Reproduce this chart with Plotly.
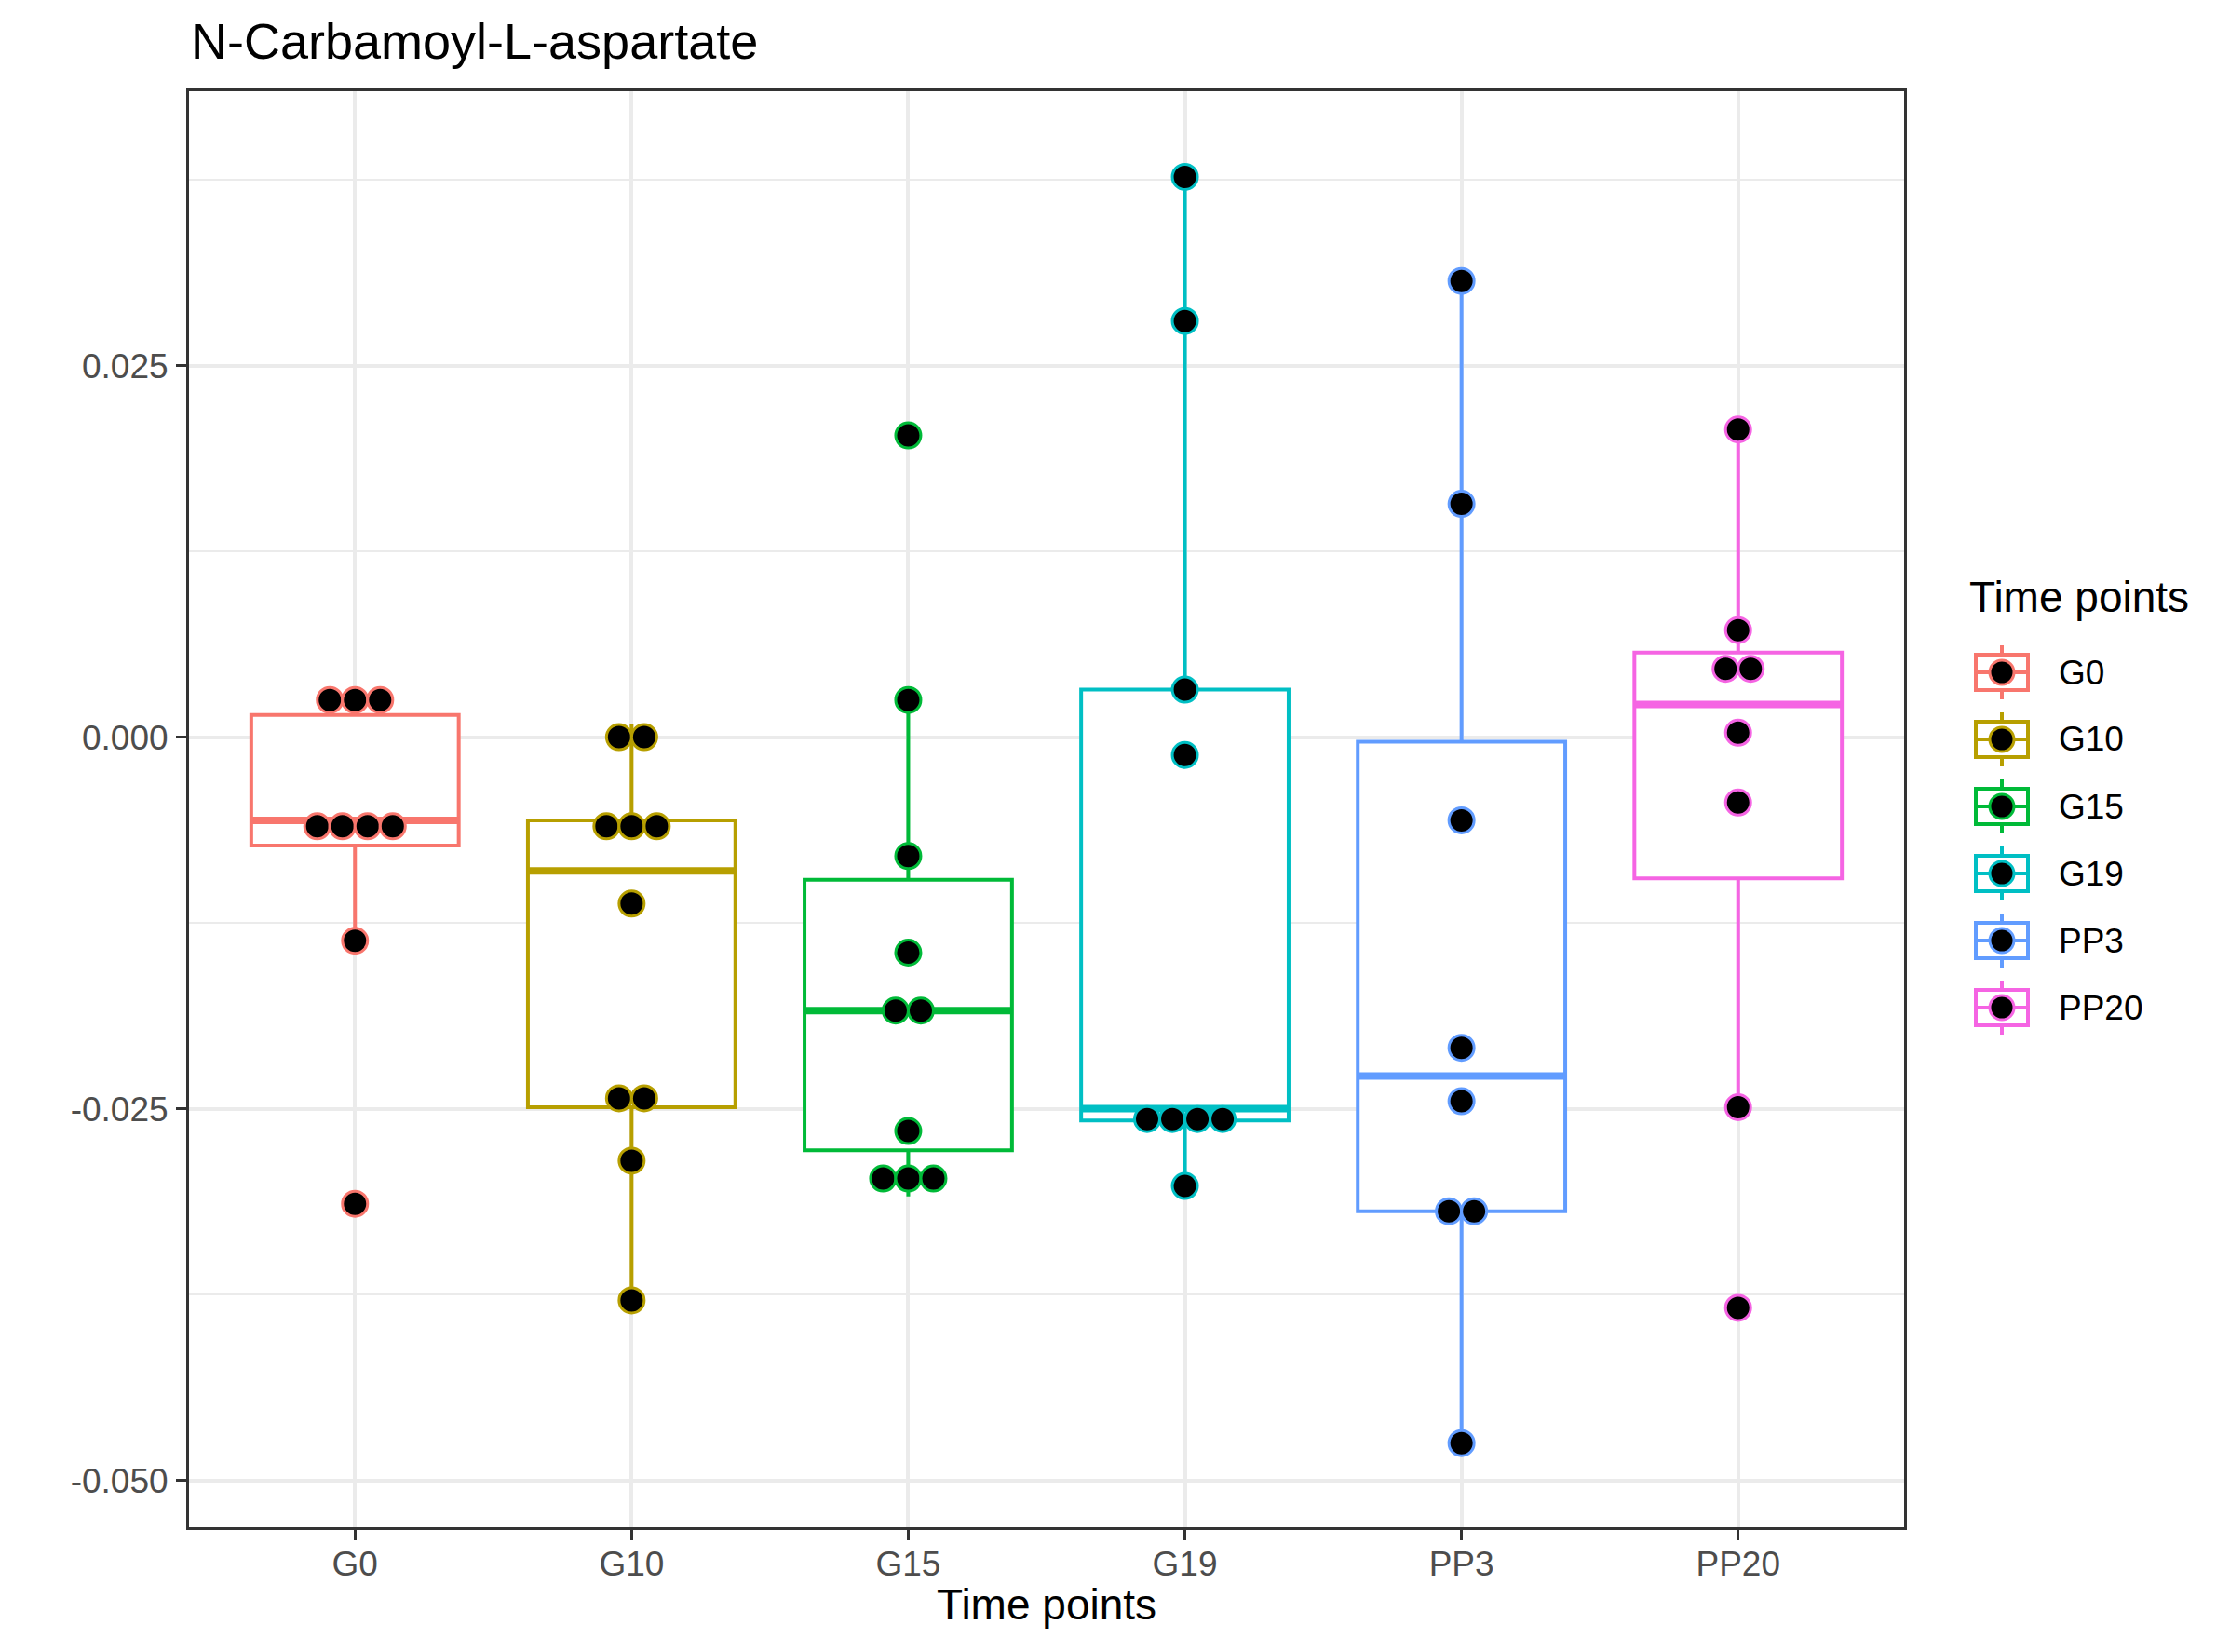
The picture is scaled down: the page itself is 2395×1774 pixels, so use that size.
import plotly.graph_objects as go

# ---------------- data ----------------
categories = ["G0", "G10", "G15", "G19", "PP3", "PP20"]
colors = ["#F8766D", "#B79F00", "#00BA38", "#00BFC4", "#619CFF", "#F564E3"]

# dot positions (binned values, as drawn by the dot plot)
g0_dots = [0.0025, 0.0025, 0.0025, -0.0060, -0.0060, -0.0060, -0.0060, -0.0137, -0.0314]
g10_dots = [0.0000, 0.0000, -0.0060, -0.0060, -0.0060, -0.0112, -0.0243, -0.0243, -0.0285, -0.0379]
g15_dots = [0.0203, 0.0025, -0.0080, -0.0145, -0.0184, -0.0184, -0.0265, -0.0297, -0.0297, -0.0297]
g19_dots = [0.0377, 0.0280, 0.0032, -0.0012, -0.0257, -0.0257, -0.0257, -0.0257, -0.0302]
pp3_dots = [0.0307, 0.0157, -0.0056, -0.0209, -0.0245, -0.0319, -0.0319, -0.0475]
pp20_dots = [0.0207, 0.0072, 0.0046, 0.0046, 0.0003, -0.0044, -0.0249, -0.0384]
dots = [g0_dots, g10_dots, g15_dots, g19_dots, pp3_dots, pp20_dots]

# box-plot statistics
q1 = [-0.0073, -0.0249, -0.0278, -0.0258, -0.0319, -0.0095]
median = [-0.0056, -0.0090, -0.0184, -0.0250, -0.0228, 0.0022]
q3 = [0.0015, -0.0056, -0.0096, 0.0032, -0.0003, 0.0057]
lowerfence = [-0.0137, -0.0379, -0.0309, -0.0302, -0.0475, -0.0249]
upperfence = [0.0025, 0.0009, 0.0025, 0.0377, 0.0307, 0.0207]

y_tickvals = [-0.050, -0.025, 0.000, 0.025]
y_ticktext = ["-0.050", "-0.025", "0.000", "0.025"]
y_minor = [-0.0375, -0.0125, 0.0125, 0.0375]

# ---------------- styling / layout constants ----------------
W, H = 2395, 1774
PL, PR, PT, PB = 203, 2045, 98, 1640      # panel edges in pixels
FONT = "Liberation Sans, Arial, Helvetica, sans-serif"
BOX_W = 0.75
DOT_STEP = 0.091
LINE_W = 4
GRID = "#EBEBEB"
DARK = "#333333"

def px_x(x):
    return (x - PL) / (PR - PL)

def px_y(y):
    return (PB - y) / (PB - PT)

fig = go.Figure()

positions = list(range(1, len(categories) + 1))

# boxes
for i, cat in enumerate(categories):
    fig.add_trace(go.Box(
        x=[positions[i]], q1=[q1[i]], median=[median[i]], q3=[q3[i]],
        lowerfence=[lowerfence[i]], upperfence=[upperfence[i]],
        width=BOX_W, whiskerwidth=0, boxpoints=False,
        line=dict(color=colors[i], width=LINE_W), fillcolor="white",
        showlegend=False, hoverinfo="skip", name=cat,
    ))

# fat median lines
for i, cat in enumerate(categories):
    fig.add_trace(go.Scatter(
        x=[positions[i] - BOX_W / 2, positions[i] + BOX_W / 2],
        y=[median[i], median[i]], mode="lines",
        line=dict(color=colors[i], width=2 * LINE_W),
        showlegend=False, hoverinfo="skip",
    ))

# centred dot stacks
for i, cat in enumerate(categories):
    vals = dots[i]
    xs, ys = [], []
    uniq = []
    for v in vals:
        if v not in uniq:
            uniq.append(v)
    for v in uniq:
        n = vals.count(v)
        for k in range(n):
            xs.append(positions[i] + (k - (n - 1) / 2) * DOT_STEP)
            ys.append(v)
    fig.add_trace(go.Scatter(
        x=xs, y=ys, mode="markers",
        marker=dict(size=27, color="black", line=dict(color=colors[i], width=3)),
        showlegend=False, name=cat, cliponaxis=False,
    ))

# ---------------- custom legend (ggplot-style keys) ----------------
shapes = []
annotations = []
KEY_CX, KEY_HW, KEY_HH, WHISK = 2150, 28, 19, 29
LEG_Y0, LEG_DY = 722, 72
for i, cat in enumerate(categories):
    cy = LEG_Y0 + LEG_DY * i
    c = colors[i]
    shapes.append(dict(type="line", xref="paper", yref="paper",
                       x0=px_x(KEY_CX), x1=px_x(KEY_CX), y0=px_y(cy - WHISK), y1=px_y(cy - KEY_HH),
                       line=dict(color=c, width=LINE_W)))
    shapes.append(dict(type="line", xref="paper", yref="paper",
                       x0=px_x(KEY_CX), x1=px_x(KEY_CX), y0=px_y(cy + KEY_HH), y1=px_y(cy + WHISK),
                       line=dict(color=c, width=LINE_W)))
    shapes.append(dict(type="rect", xref="paper", yref="paper",
                       x0=px_x(KEY_CX - KEY_HW), x1=px_x(KEY_CX + KEY_HW),
                       y0=px_y(cy + KEY_HH), y1=px_y(cy - KEY_HH),
                       line=dict(color=c, width=LINE_W), fillcolor="white"))
    shapes.append(dict(type="line", xref="paper", yref="paper",
                       x0=px_x(KEY_CX - KEY_HW), x1=px_x(KEY_CX + KEY_HW), y0=px_y(cy), y1=px_y(cy),
                       line=dict(color=c, width=LINE_W)))
    shapes.append(dict(type="circle", xref="paper", yref="paper",
                       x0=px_x(KEY_CX - 13), x1=px_x(KEY_CX + 13),
                       y0=px_y(cy + 13), y1=px_y(cy - 13),
                       line=dict(color=c, width=3), fillcolor="black"))
    annotations.append(dict(text=cat, xref="paper", yref="paper",
                            x=px_x(2209), y=px_y(cy), xanchor="left", yanchor="middle",
                            showarrow=False, font=dict(family=FONT, size=37, color="black")))

annotations.append(dict(text="Time points", xref="paper", yref="paper",
                        x=px_x(2113), y=px_y(641), xanchor="left", yanchor="middle",
                        showarrow=False, font=dict(family=FONT, size=46, color="black")))
# axis title
annotations.append(dict(text="Time points", xref="paper", yref="paper",
                        x=0.5, y=px_y(1723), xanchor="center", yanchor="middle",
                        showarrow=False, font=dict(family=FONT, size=46, color="black")))
# plot title
annotations.append(dict(text="N-Carbamoyl-L-aspartate", xref="paper", yref="paper",
                        x=0, y=px_y(44), xanchor="left", yanchor="middle",
                        showarrow=False, font=dict(family=FONT, size=54, color="black")))

fig.update_layout(
    width=W, height=H,
    margin=dict(l=PL, r=W - PR, t=PT, b=H - PB, pad=0),
    paper_bgcolor="white", plot_bgcolor="white",
    font=dict(family=FONT),
    shapes=shapes, annotations=annotations,
    showlegend=False,
)

fig.update_xaxes(
    range=[0.4, 6.6], tickvals=positions, ticktext=categories,
    showgrid=True, gridcolor=GRID, gridwidth=LINE_W, zeroline=False,
    ticks="outside", ticklen=11, tickwidth=3, tickcolor=DARK,
    tickfont=dict(family=FONT, size=37, color="#4D4D4D"),
    ticklabelstandoff=-6,
    showline=True, mirror=True, linecolor=DARK, linewidth=3,
    automargin=False,
)
fig.update_yaxes(
    range=[-0.05316, 0.04346], tickvals=y_tickvals, ticktext=y_ticktext,
    showgrid=True, gridcolor=GRID, gridwidth=LINE_W, zeroline=False,
    minor=dict(tickvals=y_minor, showgrid=True, gridcolor=GRID, gridwidth=2, ticks=""),
    ticks="outside", ticklen=11, tickwidth=3, tickcolor=DARK,
    tickfont=dict(family=FONT, size=37, color="#4D4D4D"),
    ticklabelstandoff=1,
    showline=True, mirror=True, linecolor=DARK, linewidth=3,
    automargin=False,
)

fig.write_html("out.html", config={"displayModeBar": False},
               post_script="document.body.style.margin='0';")
